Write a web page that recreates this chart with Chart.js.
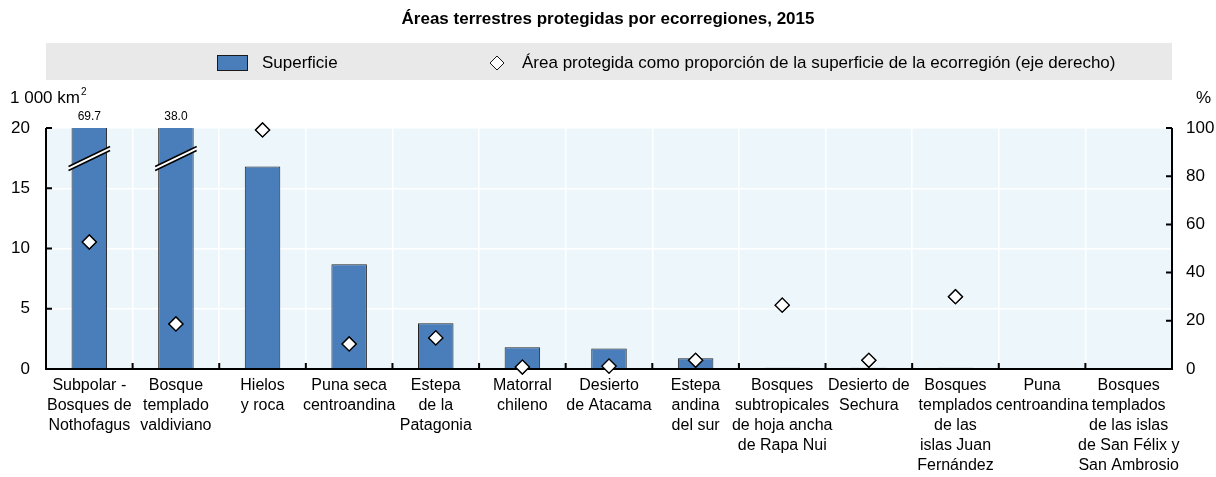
<!DOCTYPE html>
<html>
<head>
<meta charset="utf-8">
<script src="https://cdn.jsdelivr.net/npm/chart.js@4.4.0/dist/chart.umd.min.js"></script>
<style>
  html, body { margin: 0; padding: 0; background: #fff; }
  #wrap { position: relative; width: 1216px; height: 477px; }
</style>
</head>
<body>
<div id="wrap"><canvas id="chart" width="1216" height="477"></canvas></div>
<script>
// data
const categories = [
  ['Subpolar -', 'Bosques de', 'Nothofagus'],
  ['Bosque', 'templado', 'valdiviano'],
  ['Hielos', 'y roca'],
  ['Puna seca', 'centroandina'],
  ['Estepa', 'de la', 'Patagonia'],
  ['Matorral', 'chileno'],
  ['Desierto', 'de Atacama'],
  ['Estepa', 'andina', 'del sur'],
  ['Bosques', 'subtropicales', 'de hoja ancha', 'de Rapa Nui'],
  ['Desierto de', 'Sechura'],
  ['Bosques', 'templados', 'de las', 'islas Juan', 'Fernández'],
  ['Puna', 'centroandina'],
  ['Bosques', 'templados', 'de las islas', 'de San Félix y', 'San Ambrosio']
];
const superficie = [69.7, 38.0, 16.8, 8.7, 3.8, 1.8, 1.7, 0.9, 0.1, 0.1, 0.1, 0, 0];
const proporcion = [52.7, 18.7, 99.2, 10.4, 12.9, 0.8, 1.2, 3.6, 26.5, 3.6, 30.0, null, null];
const leftTicks = [0, 5, 10, 15, 20];
const rightTicks = [0, 20, 40, 60, 80, 100];

const FONT = "'Liberation Sans', Arial, Helvetica, sans-serif";
const BAR_COLOR = '#4a7ebb';
const PLOT_BG = '#edf6fa';

const decor = {
  id: 'decor',
  beforeDraw(chart) {
    const { ctx, chartArea: a } = chart;
    ctx.save();
    ctx.fillStyle = PLOT_BG;
    ctx.fillRect(a.left, a.top, a.right - a.left, a.bottom - a.top);
    ctx.restore();
  },
  afterDraw(chart) {
    const { ctx, chartArea: a, scales } = chart;
    const y = scales.y, y2 = scales.y2, x = scales.x;
    ctx.save();

    // title
    ctx.fillStyle = '#000';
    ctx.font = 'bold 17px ' + FONT;
    ctx.textAlign = 'center';
    ctx.textBaseline = 'middle';
    ctx.fillText('Áreas terrestres protegidas por ecorregiones, 2015', 608, 19);

    // legend band
    ctx.fillStyle = '#e9e9ea';
    ctx.fillRect(a.left, 43, a.right - a.left, 37);
    ctx.fillStyle = BAR_COLOR;
    ctx.strokeStyle = '#1a1a1a';
    ctx.lineWidth = 1;
    ctx.fillRect(217, 55, 30, 15);
    ctx.strokeRect(217.5, 55.5, 30, 15);
    ctx.fillStyle = '#000';
    ctx.font = '17px ' + FONT;
    ctx.textAlign = 'left';
    ctx.fillText('Superficie', 262, 63);
    ctx.beginPath();
    ctx.moveTo(497, 56); ctx.lineTo(504, 63); ctx.lineTo(497, 70); ctx.lineTo(490, 63); ctx.closePath();
    ctx.fillStyle = '#fff'; ctx.fill(); ctx.stroke();
    ctx.fillStyle = '#000';
    ctx.fillText('Área protegida como proporción de la superficie de la ecorregión (eje derecho)', 522, 63);

    // axis units
    ctx.fillText('1 000 km', 10, 98);
    const w = ctx.measureText('1 000 km').width;
    ctx.font = '10px ' + FONT;
    ctx.fillText('2', 10 + w + 1, 92);
    ctx.font = '17px ' + FONT;
    ctx.textAlign = 'right';
    ctx.fillText('%', 1211, 98);

    // axis lines and inward ticks
    ctx.strokeStyle = '#000';
    ctx.lineWidth = 2;
    ctx.beginPath();
    ctx.moveTo(a.left, a.top); ctx.lineTo(a.left, a.bottom); ctx.lineTo(a.right, a.bottom); ctx.lineTo(a.right, a.top);
    leftTicks.forEach(v => { const p = y.getPixelForValue(v); ctx.moveTo(a.left, p); ctx.lineTo(a.left + 6, p); });
    rightTicks.forEach(v => { const p = y2.getPixelForValue(v); ctx.moveTo(a.right, p); ctx.lineTo(a.right - 6, p); });
    const step = (a.right - a.left) / categories.length;
    for (let i = 1; i < categories.length; i++) {
      const p = x.getPixelForValue(i) - step / 2;
      ctx.moveTo(p, a.bottom); ctx.lineTo(p, a.bottom - 6);
    }
    ctx.stroke();

    // broken bars: value labels and break marks
    const meta = chart.getDatasetMeta(1);
    ctx.font = '12px ' + FONT;
    ctx.textAlign = 'center';
    superficie.forEach((v, i) => {
      if (v <= y.max) return;
      const bar = meta.data[i];
      ctx.fillStyle = '#000';
      ctx.fillText(v.toFixed(1), bar.x, a.top - 11);
      const half = bar.width / 2 + 3;
      const yc = y.getPixelForValue(17.3);
      const rise = 10;
      ctx.beginPath();
      ctx.moveTo(bar.x - half, yc + rise);
      ctx.lineTo(bar.x + half, yc - rise);
      ctx.lineTo(bar.x + half, yc - rise - 4);
      ctx.lineTo(bar.x - half, yc + rise - 4);
      ctx.closePath();
      ctx.fillStyle = '#fff';
      ctx.fill();
      ctx.lineWidth = 1.5;
      ctx.beginPath();
      ctx.moveTo(bar.x - half, yc + rise); ctx.lineTo(bar.x + half, yc - rise);
      ctx.moveTo(bar.x - half, yc + rise - 4); ctx.lineTo(bar.x + half, yc - rise - 4);
      ctx.stroke();
    });

    // redraw diamonds above everything so none is clipped
    chart.getDatasetMeta(0).data.forEach(pt => { if (!pt.skip) pt.draw(ctx); });
    ctx.restore();
  }
};

new Chart('chart', {
  data: {
    labels: categories,
    datasets: [
      {
        type: 'scatter',
        label: 'Área protegida como proporción de la superficie de la ecorregión (eje derecho)',
        data: proporcion,
        yAxisID: 'y2',
        pointStyle: 'rectRot',
        pointRadius: 7,
        pointBackgroundColor: '#fff',
        pointBorderColor: '#000',
        pointBorderWidth: 1.3,
        showLine: false,
        clip: false,
        order: 0
      },
      {
        type: 'bar',
        label: 'Superficie',
        data: superficie,
        yAxisID: 'y',
        backgroundColor: BAR_COLOR,
        borderColor: '#222',
        borderWidth: 1,
        barPercentage: 0.41,
        categoryPercentage: 1,
        order: 1
      }
    ]
  },
  options: {
    responsive: false,
    animation: false,
    layout: { padding: { top: 128, left: 0, right: 0, bottom: 0 } },
    plugins: { legend: { display: false }, title: { display: false }, tooltip: { enabled: false } },
    scales: {
      x: {
        type: 'category',
        offset: true,
        grid: { color: '#fff', lineWidth: 1.5, offset: true, drawTicks: false },
        border: { display: false },
        ticks: { color: '#000', font: { family: FONT, size: 16, lineHeight: 1.25 }, padding: 7, maxRotation: 0, autoSkip: false },
        afterFit(s) { s.height = 108; }
      },
      y: {
        position: 'left',
        min: 0, max: 20,
        afterBuildTicks(s) { s.ticks = leftTicks.map(v => ({ value: v })); },
        grid: { color: '#fff', lineWidth: 1.5, drawTicks: false },
        border: { display: false },
        ticks: { color: '#000', font: { family: FONT, size: 17 }, padding: 16 },
        afterFit(s) { s.width = 46; }
      },
      y2: {
        position: 'right',
        min: 0, max: 100,
        afterBuildTicks(s) { s.ticks = rightTicks.map(v => ({ value: v })); },
        grid: { display: false, drawTicks: false },
        border: { display: false },
        ticks: { color: '#000', font: { family: FONT, size: 17 }, padding: 14 },
        afterFit(s) { s.width = 44; }
      }
    }
  },
  plugins: [decor]
});
</script>
</body>
</html>
